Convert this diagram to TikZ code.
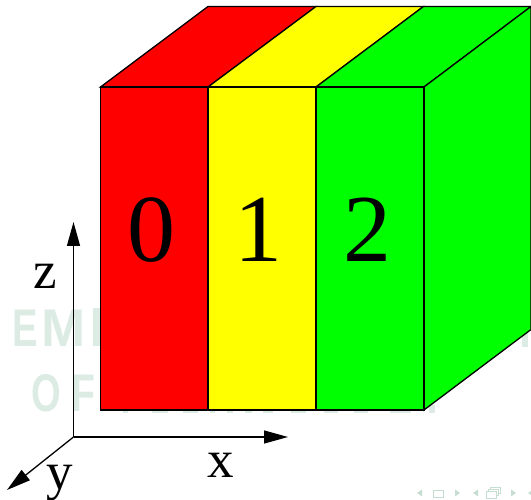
\documentclass[tikz,border=0pt]{standalone}
\usepackage{fontspec}
\setmainfont{Liberation Serif}
\newfontfamily\wmfont{Liberation Sans}[BoldFont={Liberation Sans Bold}]
\usetikzlibrary{arrows.meta}
\definecolor{wmark}{HTML}{DCEBE4}
\definecolor{navc}{HTML}{C6DDD2}
\definecolor{fred}{rgb}{1,0,0}
\definecolor{fyellow}{rgb}{1,1,0}
\definecolor{fgreen}{rgb}{0,1,0}
\tikzset{
  face/.style={draw=black,line width=1.3pt,line join=miter},
  axis/.style={draw=black,line width=1.3pt,-{Triangle[length=24pt,width=13pt]}},
  digit/.style={font=\fontsize{96}{96}\selectfont,anchor=base,inner sep=0pt,text=black},
  axlabel/.style={font=\fontsize{53}{53}\selectfont,anchor=base,inner sep=0pt,text=black},
  wm/.style={font=\fontsize{53}{53}\selectfont\wmfont\bfseries,anchor=base,inner sep=0pt,text=wmark},
  wmbit/.style={fill=wmark,draw=none},
  navtri/.style={fill=navc,draw=none},
  navbox/.style={draw=navc,line width=1pt,fill=none}
}
\begin{document}
\begin{tikzpicture}[x=1pt,y=-1pt]
\useasboundingbox (0,0) rectangle (531,500);
% watermark
\node[wm,xscale=.72] (wE) at (25.5,346) {E};
\node[wm,xscale=1.0] (wM) at (63.5,346) {M};
\node[wm,xscale=.72] (wO) at (46.5,411) {O};
\node[wm,xscale=.74] (wF) at (83,411) {F};
\fill[wmbit] (93,308) rectangle (101,346);
\fill[wmbit] (522,325) rectangle (528,347);
\foreach \a/\b in {123/128,152/168,183/198,210/215,227/233,245/252,263/273,291/306,324/338,354/368,390/411,429/435}
  \fill[wmbit] (\a,405) rectangle (\b,412.7);
% block vertices
\coordinate (f0t) at (100.5,87);
\coordinate (f1t) at (208,87);
\coordinate (f2t) at (316,87);
\coordinate (f3t) at (424,87);
\coordinate (f0b) at (100.5,410);
\coordinate (f1b) at (208,410);
\coordinate (f2b) at (316,410);
\coordinate (f3b) at (424,410);
\coordinate (b0t) at (208,6.5);
\coordinate (b1t) at (316,6.5);
\coordinate (b2t) at (423.5,6.5);
\coordinate (b3t) at (531,6.5);
\coordinate (b3b) at (531,329.5);
% top faces
\draw[face,fill=fred] (f0t) -- (b0t) -- (b1t) -- (f1t) -- cycle;
\draw[face,fill=fyellow] (f1t) -- (b1t) -- (b2t) -- (f2t) -- cycle;
\draw[face,fill=fgreen] (f2t) -- (b2t) -- (b3t) -- (f3t) -- cycle;
% right face
\draw[face,fill=fgreen] (f3t) -- (b3t) -- (b3b) -- (f3b) -- cycle;
% front faces
\draw[face,fill=fred] (f0t) rectangle (f1b);
\draw[face,fill=fyellow] (f1t) rectangle (f2b);
\draw[face,fill=fgreen] (f2t) rectangle (f3b);
% digits
\node[digit] (d0) at (151,262) {0};
\node[digit] (d1) at (258,262) {1};
\node[digit] (d2) at (367,262) {2};
% axes
\coordinate (o) at (73.5,437);
\coordinate (zt) at (73.5,222);
\coordinate (xt) at (288,437);
\coordinate (yt) at (7,490);
\draw[axis] (o) -- (zt);
\draw[axis] (o) -- (xt);
\draw[axis] (o) -- (yt);
\node[axlabel] (lz) at (45,289) {z};
\node[axlabel] (lx) at (221,477) {x};
\node[axlabel] (ly) at (60,489) {y};
% navigation symbols
\fill[navtri] (417,493) -- (422,489.5) -- (422,496.5) -- cycle;
\draw[navbox] (433.5,490) rectangle (443,497);
\fill[navtri] (460,493) -- (455,489.5) -- (455,496.5) -- cycle;
\fill[navtri] (473,493) -- (478,489.5) -- (478,496.5) -- cycle;
\draw[navbox] (490,487.5) rectangle (500,493.5);
\draw[navbox,fill=white] (488,489.5) rectangle (498,495.5);
\draw[navbox,fill=white] (486.5,491.5) rectangle (496,498);
\fill[navtri] (516,493) -- (511,489.5) -- (511,496.5) -- cycle;
\fill[navtri] (528,493) -- (531,491) -- (531,495) -- cycle;
\end{tikzpicture}
\end{document}
